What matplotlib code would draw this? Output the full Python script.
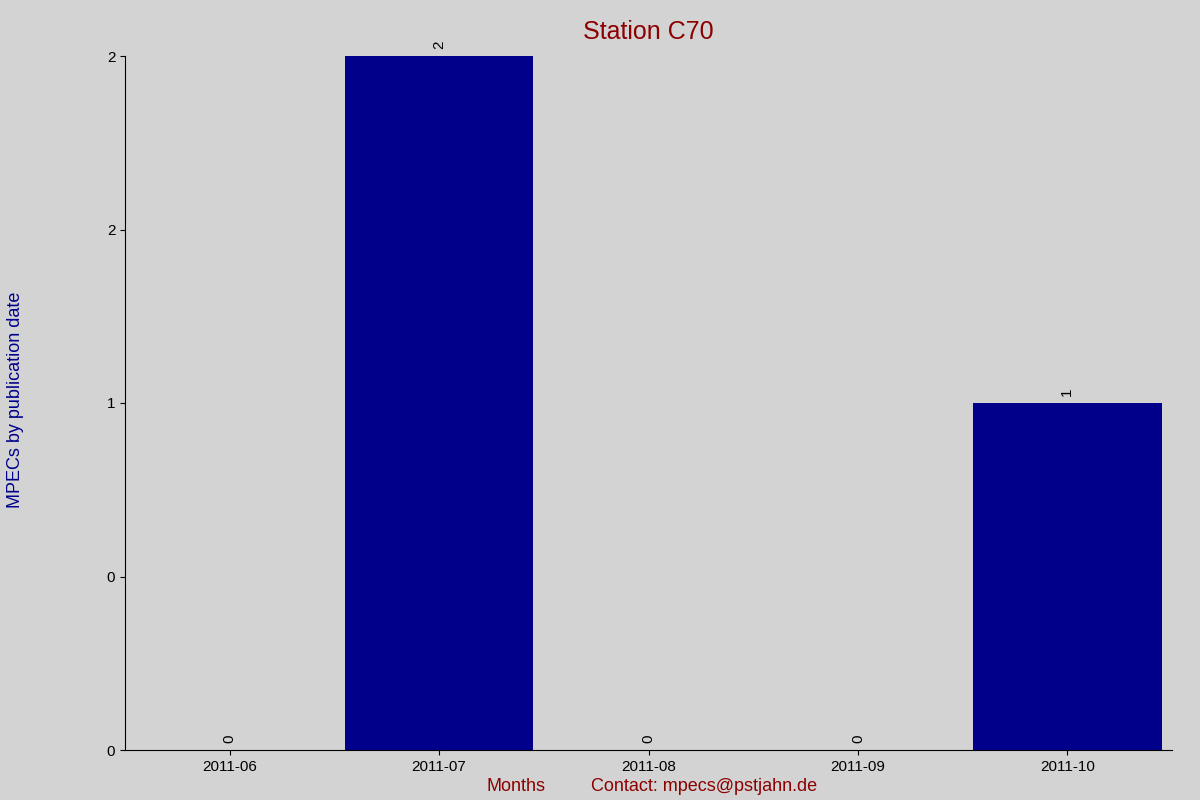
import matplotlib
matplotlib.use("Agg")
import matplotlib.pyplot as plt
from matplotlib.ticker import FormatStrFormatter

plt.rcParams['font.family'] = ['Liberation Sans', 'DejaVu Sans']

months = ["2011-06", "2011-07", "2011-08", "2011-09", "2011-10"]
counts = [0, 2, 0, 0, 1]

fig = plt.figure(figsize=(12, 8), dpi=100, facecolor='#d3d3d3')
ax = fig.add_axes([125/1200, 50/800, 1047/1200, 694/800])
ax.set_facecolor('#d3d3d3')

x = range(len(months))
ax.bar(x, counts, width=0.9, color='#00008b')
for i, c in zip(x, counts):
    ax.text(i, c + 0.02, str(c), rotation=90, ha='center', va='bottom', fontsize=11)

ax.set_xlim(-0.5, len(months) - 0.5)
ax.set_ylim(0, 2)
ax.set_yticks([0, 0.5, 1, 1.5, 2])
ax.yaxis.set_major_formatter(FormatStrFormatter('%.0f'))
ax.set_xticks(list(x))
ax.set_xticklabels(months)
ax.tick_params(labelsize=11)

for s in ['top', 'right']:
    ax.spines[s].set_visible(False)

fig.text(0.54, 0.975, "Station C70", ha='center', va='top', fontsize=18, color='#8b0000')
fig.text(0.013, 0.5, "MPECs by publication date", rotation=90, ha='center', va='center',
         fontsize=13, color='#00008b')
fig.text(0.43, 0.017, "Months", ha='center', va='center', fontsize=13, color='#8b0000')
fig.text(0.587, 0.017, "Contact: mpecs@pstjahn.de", ha='center', va='center', fontsize=13, color='#8b0000')

fig.savefig("out.png", facecolor=fig.get_facecolor())
